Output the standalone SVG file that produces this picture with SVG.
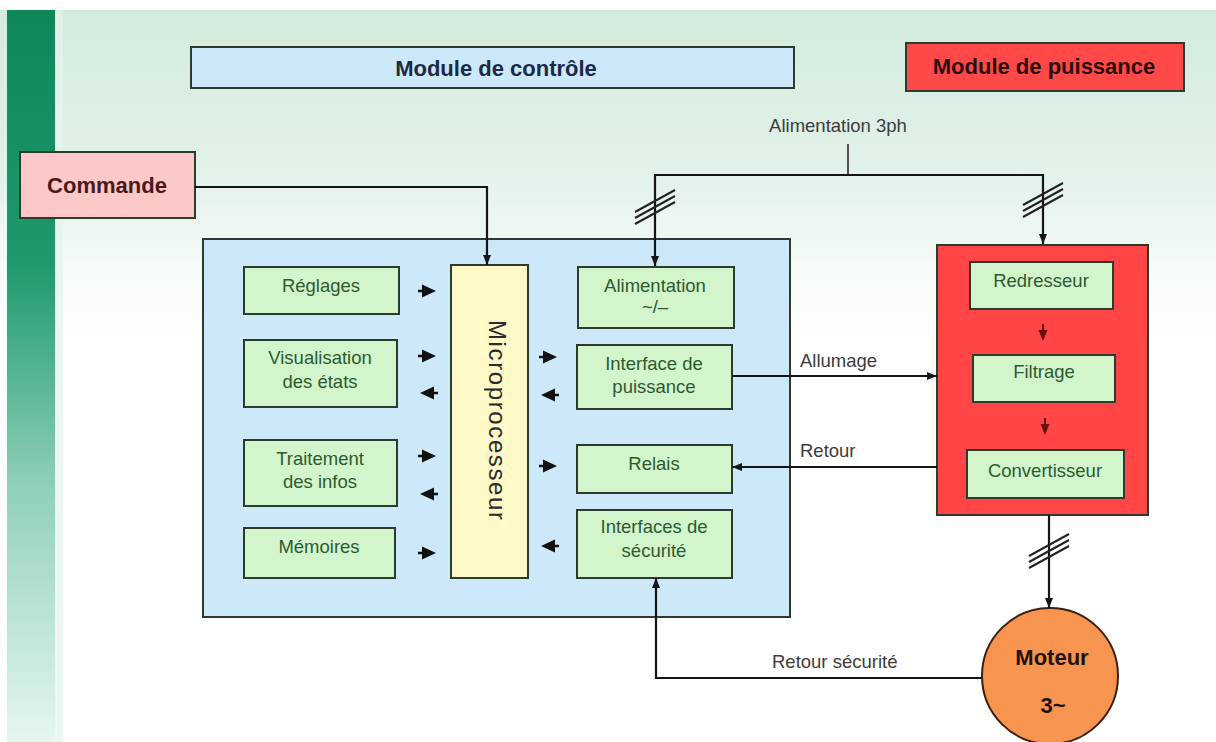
<svg xmlns="http://www.w3.org/2000/svg" xmlns:xlink="http://www.w3.org/1999/xlink" width="1216" height="742" viewBox="0 0 1216 742">
<defs>
<style>
.box{stroke:#2f3a2f;stroke-width:2}
.gbox{fill:#d2f5cc;stroke:#2f3a2f;stroke-width:2}
.gt{font-family:"Liberation Sans",Arial,sans-serif;font-size:18.5px;fill:#2e5a30;text-anchor:middle}
.title{font-family:"Liberation Sans",Arial,sans-serif;font-size:22px;font-weight:bold;text-anchor:middle}
.lbl{font-family:"Liberation Sans",Arial,sans-serif;font-size:18.5px;fill:#3c3c3c}
.conn{fill:none;stroke:#151515;stroke-width:2.2}
.thin{fill:none;stroke:#2a2a2a;stroke-width:1.6}
.slash{fill:none;stroke:#222;stroke-width:2}
</style>
<linearGradient id="bg" x1="0" y1="0" x2="0" y2="1">
<stop offset="0" stop-color="#d3ebdd"/>
<stop offset="0.22" stop-color="#e2f2e9"/>
<stop offset="0.36" stop-color="#f6fbf8"/>
<stop offset="0.45" stop-color="#ffffff"/>
</linearGradient>
<linearGradient id="bar" x1="0" y1="0" x2="0" y2="1">
<stop offset="0" stop-color="#0e885b"/>
<stop offset="0.35" stop-color="#1f9a6d"/>
<stop offset="0.65" stop-color="#8fd0b7"/>
<stop offset="1" stop-color="#e6f6ef"/>
</linearGradient>
<marker id="ah" viewBox="0 0 10 10" refX="10" refY="5" markerWidth="10" markerHeight="10" markerUnits="userSpaceOnUse" orient="auto">
<path d="M0,1 L10,5 L0,9 z" fill="#151515"/>
</marker>
<path id="rarr" d="M0,-6.5 L14,0 L0,6.5 Z M-4,-1.3 H1 V1.3 H-4 Z" fill="#111"/>
<path id="larr" d="M0,-6.5 L-14,0 L0,6.5 Z M4,-1.3 H-1 V1.3 H4 Z" fill="#111"/>
<path id="darr" d="M-4.5,0 L4.5,0 L0,11 Z M-1,-6 H1 V1 H-1 Z" fill="#6a0e0e"/>
<path id="sl" d="M-20,5 L20,-17 M-20,11 L20,-11 M-20,17 L20,-5"/>
</defs>

<!-- background -->
<rect x="0" y="0" width="1216" height="742" fill="#ffffff"/>
<rect x="0" y="10" width="1216" height="732" fill="url(#bg)"/>
<rect x="7" y="10" width="48" height="732" fill="url(#bar)"/>
<rect x="55" y="10" width="8" height="732" fill="#e3f5ec" opacity="0.7"/>

<!-- titles -->
<g id="module-controle">
<rect class="box" x="191" y="47" width="603" height="41" fill="#cde9f9"/>
<text class="title" x="496" y="76" fill="#1c2a48">Module de contrôle</text>
</g>
<g id="module-puissance">
<rect class="box" x="906" y="43" width="278" height="48" fill="#ff4848" stroke="#4a1515"/>
<text class="title" x="1044" y="74" fill="#2a0c0c">Module de puissance</text>
</g>
<g id="commande">
<rect class="box" x="20" y="152" width="175" height="66" fill="#fcc8c8"/>
<text class="title" x="107" y="193" fill="#4a1a1a" font-size="23">Commande</text>
</g>

<!-- control module -->
<g id="control-block">
<rect class="box" x="203" y="239" width="587" height="378" fill="#cde9f9"/>
</g>
<g id="reglages">
<rect class="gbox" x="244" y="267" width="155" height="47"/>
<text class="gt" x="321" y="292">Réglages</text>
</g>
<g id="visualisation">
<rect class="gbox" x="244" y="340" width="153" height="67"/>
<text class="gt" x="320" y="364">Visualisation</text>
<text class="gt" x="320" y="388">des états</text>
</g>
<g id="traitement">
<rect class="gbox" x="244" y="440" width="153" height="66"/>
<text class="gt" x="320" y="465">Traitement</text>
<text class="gt" x="320" y="488">des infos</text>
</g>
<g id="memoires">
<rect class="gbox" x="244" y="528" width="151" height="50"/>
<text class="gt" x="319" y="553">Mémoires</text>
</g>
<g id="microprocesseur">
<rect class="box" x="451" y="265" width="77" height="313" fill="#fff9c8"/>
<text x="0" y="0" transform="translate(489,420) rotate(90)" font-family="'Liberation Sans',Arial,sans-serif" font-size="24" fill="#2a2a2a" text-anchor="middle" textLength="200" lengthAdjust="spacing">Microprocesseur</text>
</g>
<g id="alimentation">
<rect class="gbox" x="578" y="267" width="156" height="61"/>
<text class="gt" x="655" y="292">Alimentation</text>
<text class="gt" x="655" y="313">~/–</text>
</g>
<g id="interface-puissance">
<rect class="gbox" x="577" y="345" width="155" height="64"/>
<text class="gt" x="654" y="370">Interface de</text>
<text class="gt" x="654" y="393">puissance</text>
</g>
<g id="relais">
<rect class="gbox" x="577" y="445" width="155" height="48"/>
<text class="gt" x="654" y="470">Relais</text>
</g>
<g id="interfaces-securite">
<rect class="gbox" x="577" y="510" width="155" height="68"/>
<text class="gt" x="654" y="533">Interfaces de</text>
<text class="gt" x="654" y="557">sécurité</text>
</g>
<g id="bus-arrows">
<use xlink:href="#rarr" x="422" y="291"/>
<use xlink:href="#rarr" x="422" y="356"/>
<use xlink:href="#larr" x="434" y="393"/>
<use xlink:href="#rarr" x="422" y="456"/>
<use xlink:href="#larr" x="434" y="494"/>
<use xlink:href="#rarr" x="422" y="553"/>
<use xlink:href="#rarr" x="543" y="357"/>
<use xlink:href="#larr" x="555" y="395"/>
<use xlink:href="#rarr" x="543" y="466"/>
<use xlink:href="#larr" x="555" y="546"/>
</g>

<!-- power module -->
<g id="power-block">
<rect class="box" x="937" y="245" width="211" height="270" fill="#ff4545" stroke="#4a1515"/>
</g>
<g id="redresseur">
<rect class="gbox" x="970" y="262" width="143" height="47" stroke="#4a1515"/>
<text class="gt" x="1041" y="287">Redresseur</text>
</g>
<g id="filtrage">
<rect class="gbox" x="973" y="355" width="142" height="47" stroke="#4a1515"/>
<text class="gt" x="1044" y="378">Filtrage</text>
</g>
<g id="convertisseur">
<rect class="gbox" x="967" y="450" width="157" height="48" stroke="#4a1515"/>
<text class="gt" x="1045" y="477">Convertisseur</text>
</g>
<g id="power-arrows">
<use xlink:href="#darr" x="1043" y="330"/>
<use xlink:href="#darr" x="1045" y="424"/>
</g>

<g id="moteur">
<circle cx="1050" cy="676" r="68" fill="#f79450" stroke="#3a2010" stroke-width="2"/>
<text class="title" x="1052" y="665" fill="#1e1208" font-size="24">Moteur</text>
<text class="title" x="1053" y="713" fill="#1e1208" font-size="24">3~</text>
</g>

<!-- connectors -->
<g id="connectors">
<path class="conn" d="M195,187 H487 V265" marker-end="url(#ah)"/>
<path class="thin" d="M848,144 V175"/>
<path class="conn" d="M848,175 H655 V266" marker-end="url(#ah)"/>
<path class="conn" d="M848,175 H1043 V244" marker-end="url(#ah)"/>
<use xlink:href="#sl" class="slash" x="655" y="207"/>
<use xlink:href="#sl" class="slash" x="1043" y="200"/>
<path class="conn" d="M732,376 H937" marker-end="url(#ah)"/>
<path class="conn" d="M937,467 H732" marker-end="url(#ah)"/>
<path class="conn" d="M1049,515 V608" marker-end="url(#ah)"/>
<use xlink:href="#sl" class="slash" x="1049" y="551"/>
<path class="conn" d="M982,678 H656 V578" marker-end="url(#ah)"/>
<text class="lbl" x="838" y="132" text-anchor="middle">Alimentation 3ph</text>
<text class="lbl" x="800" y="367">Allumage</text>
<text class="lbl" x="800" y="457">Retour</text>
<text class="lbl" x="772" y="668">Retour sécurité</text>
</g>
</svg>
